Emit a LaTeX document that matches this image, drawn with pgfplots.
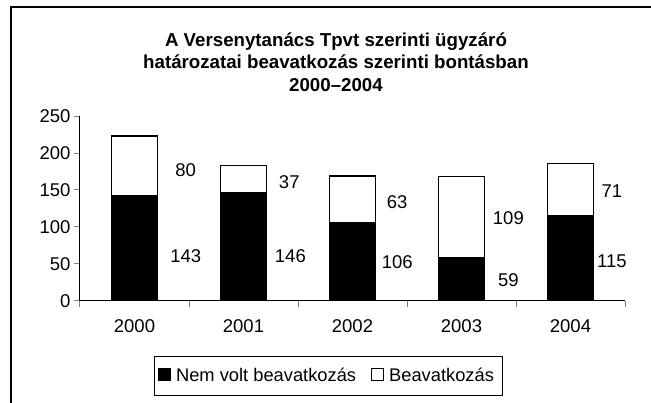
\documentclass[border=0pt]{standalone}
\usepackage{fontspec}
\setmainfont{Liberation Sans}
\usepackage{pgfplots}
\pgfplotsset{compat=1.18}
\begin{document}
\begin{tikzpicture}
\useasboundingbox (0pt,0pt) rectangle (651pt,-403pt);
\draw[line width=1.8pt] (11pt,-403pt) -- (11pt,-7pt) -- (651pt,-7pt);
\node[font=\bfseries\fontsize{18.7}{22.5}\selectfont, align=center, anchor=north] at (336pt,-29pt)
  {A Versenytanács Tpvt szerinti ügyzáró\\határozatai beavatkozás szerinti bontásban\\2000–2004};
\begin{axis}[
  at={(80pt,-301pt)}, anchor=south west,
  scale only axis, width=545pt, height=185pt,
  xmin=-0.5, xmax=4.5, ymin=0, ymax=250,
  axis lines=left, axis line style={-, line width=1pt},
  ybar stacked, bar width=0.42,
  xtick={0,1,2,3,4}, xticklabels={2000,2001,2002,2003,2004},
  major x tick style={draw=none},
  minor xtick={-0.5,0.5,1.5,2.5,3.5,4.5},
  minor x tick style={line width=1pt},
  minor tick length=6pt,
  ytick={0,50,...,250},
  y tick style={line width=1pt},
  major tick length=6pt,
  tick align=outside,
  tick label style={font=\fontsize{18.5}{21}\selectfont},
  /pgf/number format/assume math mode=true,
  xticklabel style={yshift=-9pt},
  legend style={at={(0.456,-0.405)}, anchor=center, legend columns=2, draw=black, line width=1pt,
    font=\fontsize{18.3}{21}\selectfont, inner xsep=4pt, inner ysep=10pt,
    nodes={inner xsep=5pt},
    /tikz/every even column/.append style={column sep=10pt}},
  legend image code/.code={\draw[#1, line width=1pt] (0pt,-5pt) rectangle (12pt,7pt);},
]
\addplot[fill=black, draw=black, line width=1.2pt] coordinates {(0,143) (1,146) (2,106) (3,59) (4,115)};
\addplot[fill=white, draw=black, line width=1.2pt] coordinates {(0,80) (1,37) (2,63) (3,109) (4,71)};
\legend{Nem volt beavatkozás, Beavatkozás}
\node[font=\fontsize{18.5}{21}\selectfont] at (axis cs:0.47,177) {80};
\node[font=\fontsize{18.5}{21}\selectfont] at (axis cs:0.47,61) {143};
\node[font=\fontsize{18.5}{21}\selectfont] at (axis cs:1.42,161) {37};
\node[font=\fontsize{18.5}{21}\selectfont] at (axis cs:1.43,61) {146};
\node[font=\fontsize{18.5}{21}\selectfont] at (axis cs:2.41,134) {63};
\node[font=\fontsize{18.5}{21}\selectfont] at (axis cs:2.41,53) {106};
\node[font=\fontsize{18.5}{21}\selectfont] at (axis cs:3.43,112) {109};
\node[font=\fontsize{18.5}{21}\selectfont] at (axis cs:3.43,28) {59};
\node[font=\fontsize{18.5}{21}\selectfont] at (axis cs:4.38,149) {71};
\node[font=\fontsize{18.5}{21}\selectfont] at (axis cs:4.38,54) {115};
\end{axis}
\end{tikzpicture}
\end{document}
